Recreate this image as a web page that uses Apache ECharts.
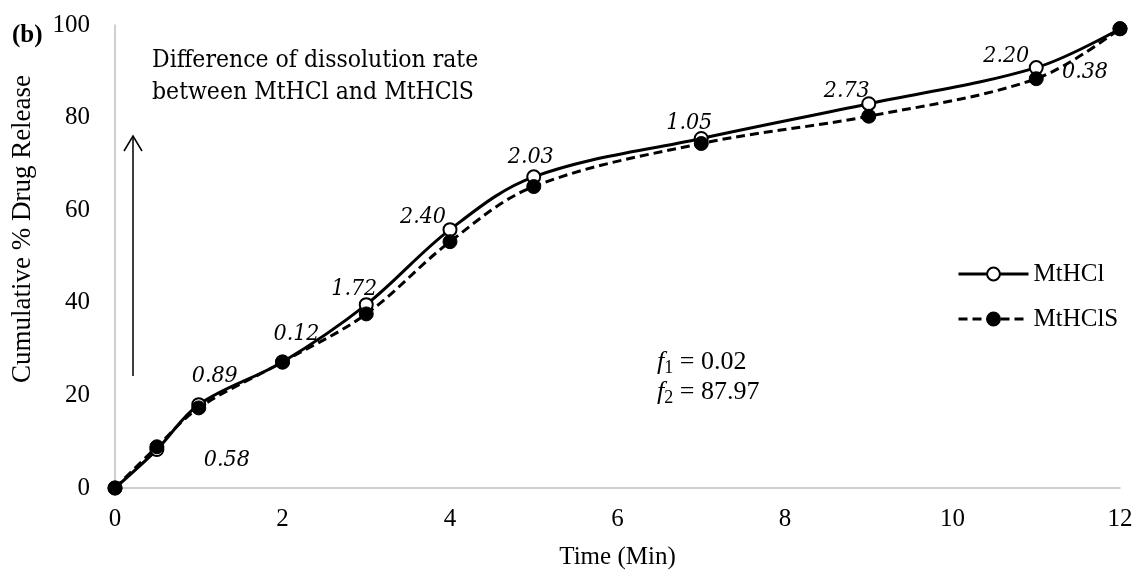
<!DOCTYPE html>
<html>
<head>
<meta charset="utf-8">
<script src="https://cdn.jsdelivr.net/npm/echarts@6/dist/echarts.min.js"></script>
<style>
  html, body { margin: 0; padding: 0; background: #fff; }
  #main { width: 1136px; height: 576px; }
</style>
</head>
<body>
<div id="main"></div>
<script>
// time points (min)
var times = [0, 0.5, 1, 2, 3, 4, 5, 7, 9, 11, 12]
// cumulative % drug release
var mthcl = [0, 8.3, 18.0, 27.2, 39.6, 55.8, 67.2, 75.5, 83.0, 90.8, 99.2]
var mthcls = [0, 8.9, 17.3, 27.2, 37.6, 53.2, 65.1, 74.4, 80.3, 88.4, 99.2]
// difference between the two at each time
var diffLabels = ['', '0.58', '0.89', '0.12', '1.72', '2.40', '2.03', '1.05', '2.73', '2.20', '0.38']
// where each difference label sits relative to its point
var labelOffsets = [[0, 0], [70, 10], [16, -29], [14, -28], [-12, -16], [-27, -13], [-3, -20], [-12, -15], [-22, -13], [-30, -12], [-35, 43]]

var serif = '"Liberation Serif", "Times New Roman", serif'

function pairs(ys) {
    return times.map(function (t, i) { return [t, ys[i]] })
}

var mthclData = pairs(mthcl).map(function (p, i) {
    return {
        value: p,
        label: {
            show: diffLabels[i] !== '',
            formatter: diffLabels[i],
            position: 'inside',
            offset: labelOffsets[i]
        }
    }
})

var myChart = echarts.init(document.getElementById('main'))

var option = {
    animation: false,
    backgroundColor: '#fff',
    grid: { left: 115, right: 16, top: 25, bottom: 88 },
    xAxis: {
        type: 'value',
        min: 0, max: 12, interval: 2,
        name: 'Time (Min)',
        nameLocation: 'middle',
        nameGap: 57,
        nameTextStyle: { fontFamily: serif, fontSize: 25, color: '#000' },
        axisLine: { lineStyle: { color: '#bfbfbf', width: 1.5 } },
        axisTick: { show: false },
        splitLine: { show: false },
        axisLabel: { fontFamily: serif, fontSize: 25, color: '#000', margin: 19 }
    },
    yAxis: {
        type: 'value',
        min: 0, max: 100, interval: 20,
        axisLine: { show: true, lineStyle: { color: '#bfbfbf', width: 1.5 } },
        axisTick: { show: false },
        splitLine: { show: false },
        axisLabel: { fontFamily: serif, fontSize: 25, color: '#000', margin: 25 }
    },
    legend: {
        orient: 'vertical',
        left: 952,
        top: 255,
        itemWidth: 70,
        itemHeight: 16,
        itemGap: 17,
        lineStyle: { width: 3 },
        textStyle: { fontFamily: serif, fontSize: 25, lineHeight: 28, color: '#000' },
        data: ['MtHCl', 'MtHClS']
    },
    series: [
        {
            name: 'MtHCl',
            type: 'line',
            smooth: 0.35,
            data: mthclData,
            symbol: 'circle',
            symbolSize: 13,
            lineStyle: { color: '#000', width: 3 },
            itemStyle: { color: '#fff', borderColor: '#000', borderWidth: 2 },
            label: {
                fontFamily: '"DejaVu Serif Condensed", "DejaVu Serif", serif',
                fontStyle: 'italic',
                fontSize: 23,
                color: '#000'
            },
            z: 2
        },
        {
            name: 'MtHClS',
            type: 'line',
            smooth: 0.35,
            data: pairs(mthcls),
            symbol: 'circle',
            symbolSize: 14,
            lineStyle: { color: '#000', width: 3, type: [9, 5] },
            itemStyle: { color: '#000', borderColor: '#000', borderWidth: 1 },
            z: 3
        }
    ],
    graphic: {
        elements: [
            {
                type: 'text', x: 23, y: 229, rotation: Math.PI / 2,
                style: {
                    text: 'Cumulative % Drug Release',
                    font: '27px ' + serif, fill: '#000',
                    align: 'center', verticalAlign: 'middle'
                }
            },
            {
                type: 'text', left: 12, top: 23,
                style: { text: '(b)', font: 'bold 25px ' + serif, fill: '#000' }
            },
            {
                type: 'text', left: 152, top: 45,
                style: {
                    text: 'Difference of dissolution rate\nbetween MtHCl and MtHClS',
                    font: '24.5px "DejaVu Serif Condensed", "DejaVu Serif", serif',
                    lineHeight: 32,
                    fill: '#000'
                }
            },
            {
                type: 'line',
                shape: { x1: 133, y1: 137, x2: 133, y2: 376 },
                style: { stroke: '#000', lineWidth: 1.5 }
            },
            {
                type: 'polyline',
                shape: { points: [[124, 151], [133, 136], [142, 151]] },
                style: { stroke: '#000', lineWidth: 1.5, fill: null }
            },
            {
                type: 'text', left: 657, top: 347,
                style: {
                    text: '{i|f}{s|1} = 0.02\n{i|f}{s|2} = 87.97',
                    font: '26px ' + serif,
                    fill: '#000',
                    lineHeight: 30,
                    rich: {
                        i: { fontFamily: serif, fontStyle: 'italic', fontSize: 26, fill: '#000' },
                        s: { fontFamily: serif, fontSize: 18, fill: '#000', verticalAlign: 'bottom', padding: [9, 0, 0, 0] }
                    }
                }
            }
        ]
    }
}

myChart.setOption(option, true)
</script>
</body>
</html>
